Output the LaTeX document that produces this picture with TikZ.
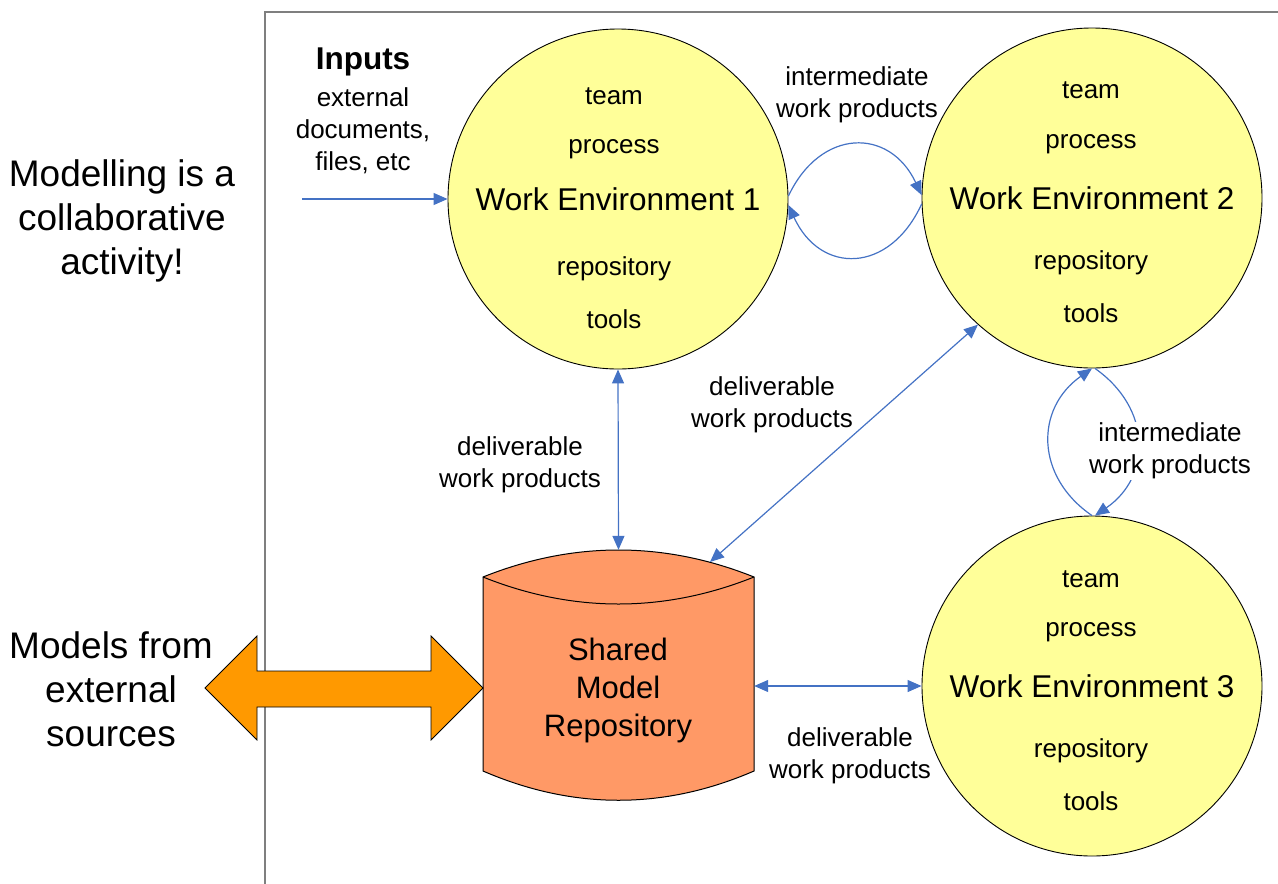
\documentclass[tikz,border=0pt]{standalone}
\usepackage{fontspec}
\setmainfont{Liberation Sans}
\usetikzlibrary{arrows.meta,calc}
\definecolor{envfill}{HTML}{FFFF99}
\definecolor{repofill}{HTML}{FF9966}
\definecolor{extfill}{HTML}{FF9900}
\definecolor{flow}{HTML}{4472C4}
\definecolor{frameline}{HTML}{7F7F7F}

\begin{document}
\begin{tikzpicture}[x=1pt,y=-1pt,
  >={Triangle[length=14pt,width=12pt]},
  env/.style={circle, draw=black, line width=0.9pt, fill=envfill, inner sep=0pt,
    minimum size=340pt, font=\fontsize{31.5}{38}\selectfont},
  small/.style={font=\fontsize{26}{32}\selectfont, align=center, inner sep=1pt},
  big/.style={font=\fontsize{37}{44}\selectfont, align=center, inner sep=0pt},
  flowline/.style={draw=flow, line width=1.2pt, ->},
  flowboth/.style={draw=flow, line width=1.2pt, <->},
]
\useasboundingbox (0,0) rectangle (1278,884);

% frame around the collaboration area
\draw[frameline, line width=1.5pt] (265,884) -- (265,12) -- (1278,12);

% heading texts on the left
\node[big] (collab) at (122,221) {Modelling is a\\collaborative\\activity!};
\node[big] (extmodels) at (111,689) {Models from\\external\\sources};

% work environments
\node[env] (we1) at (618,199) {Work Environment 1};
\node[env] (we2) at (1092,198) {Work Environment 2};
\node[env] (we3) at (1092,686) {Work Environment 3};

\node[small] (team1) at (614,96) {team};
\node[small] (proc1) at (614,149) {process};
\node[small] (repo1) at (614,269) {repository};
\node[small] (tools1) at (614,319) {tools};

\node[small] (team2) at (1091,90) {team};
\node[small] (proc2) at (1091,144) {process};
\node[small] (repo2) at (1091,263) {repository};
\node[small] (tools2) at (1091,313) {tools};

\node[small] (team3) at (1091,579) {team};
\node[small] (proc3) at (1091,632) {process};
\node[small] (repo3) at (1091,751) {repository};
\node[small] (tools3) at (1091,801) {tools};

% shared model repository (cylinder)
\draw[fill=repofill, line width=1pt]
  (483,577) .. controls (573,541) and (664,541) .. (754,577)
  -- (754,771) .. controls (664,810) and (573,810) .. (483,771) -- cycle;
\draw[line width=1pt] (483,577) .. controls (573,613) and (664,613) .. (754,577);
\node[minimum width=271pt, minimum height=250pt, inner sep=0pt] (repo) at (618.5,675) {};
\node[font=\fontsize{31}{38}\selectfont, align=center] (repotext) at (618,690)
  {Shared\\Model\\Repository};
\coordinate (repotop) at (710,562);

% exchange with external sources
\draw[fill=extfill, line width=0.8pt]
  (205,688) -- (257,636) -- (257,671) -- (431,671) -- (431,636) -- (483,688)
  -- (431,740) -- (431,707) -- (257,707) -- (257,740) -- cycle;

% inputs
\node[font=\bfseries\fontsize{31.5}{36}\selectfont, inner sep=0pt] (inputs) at (363,62) {Inputs};
\node[small] (inputtext) at (363,131) {external\\documents,\\files, etc};
\coordinate (inputsrc) at (302,199);
\draw[flowline] (inputsrc) -- (we1.west);

% deliverable work products
\draw[flowboth] (we1.south) -- (repo.north);
\draw[flowboth] (we2.228) -- (repotop);
\draw[flowboth] (repo.east |- we3.west) -- (we3.west);

% intermediate work products between environments 1 and 2
\draw[flowline] (we1.1) .. controls +(32,-68) and +(-32,-68) .. (we2.179);
\draw[flowline] (we2.182) .. controls +(-32,70) and +(32,70) .. (we1.-2);

% intermediate work products between environments 2 and 3
\draw[flowline] (we3.north) .. controls +(-57,-39) and +(-57,40) .. (we2.south);
\draw[flowline] (we2.271) .. controls +(57,40) and +(57,-39) .. (we3.89);

% labels
\node[small] (interlab1) at (857,95) {intermediate\\work products};
\node[small, fill=white] (interlab2) at (1170,451) {intermediate\\work products};
\node[small] (delivlab1) at (520,465) {deliverable\\work products};
\node[small] (delivlab2) at (772,405) {deliverable\\work products};
\node[small] (delivlab3) at (850,756) {deliverable\\work products};
\end{tikzpicture}
\end{document}
